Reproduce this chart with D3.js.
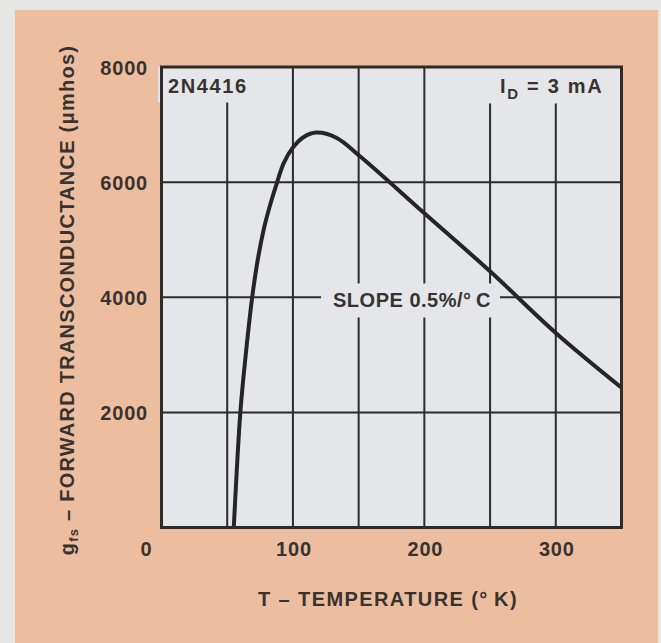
<!DOCTYPE html>
<html>
<head>
<meta charset="utf-8">
<script src="https://cdn.jsdelivr.net/npm/d3@7/dist/d3.min.js"></script>
<style>
  html, body { margin: 0; padding: 0; background: #e6e6e4; }
  svg { display: block; }
  text { font-family: "Liberation Sans", Arial, Helvetica, sans-serif; font-weight: bold; fill: #38332f; }
</style>
</head>
<body>
<svg id="chart" width="661" height="643"></svg>
<script>
// 2N4416 forward transconductance vs. temperature (I_D = 3 mA)
const tempK = [55, 60, 64, 69, 73, 78, 82, 88, 93, 100, 108, 118, 133, 151, 200, 250, 300, 350];
const gfs   = [0, 2000, 2980, 4000, 4620, 5200, 5550, 6000, 6330, 6600, 6780, 6860, 6770, 6450, 5460, 4450, 3380, 2430];

const xTickLabels = [100, 200, 300];
const yTickLabels = [2000, 4000, 6000, 8000];
const xGridValues = [50, 100, 150, 200, 250, 300];
const yGridValues = [2000, 4000, 6000];

const W = 661, H = 643;
const plot = { left: 161.5, right: 621.5, top: 67, bottom: 527.5 };
const ink = "#2d2b2b";
const plotFill = "#e4e6e9";

const svg = d3.select("#chart");

const x = d3.scaleLinear().domain([0, 350]).range([plot.left, plot.right]);
const y = d3.scaleLinear().domain([0, 8000]).range([plot.bottom, plot.top]);

// page and panel
svg.append("rect").attr("x", 0).attr("y", 0).attr("width", W).attr("height", H).attr("fill", "#e6e6e4");
svg.append("rect").attr("x", 15).attr("y", 10).attr("width", 643).attr("height", H - 10).attr("fill", "#ecbe9f");

// plot background
svg.append("rect")
  .attr("x", plot.left).attr("y", plot.top)
  .attr("width", plot.right - plot.left).attr("height", plot.bottom - plot.top)
  .attr("fill", plotFill);

// grid
const grid = svg.append("g").attr("stroke", ink).attr("stroke-width", 2);
grid.selectAll("line.v").data(xGridValues).join("line")
  .attr("class", "v")
  .attr("x1", d => x(d)).attr("x2", d => x(d))
  .attr("y1", plot.top).attr("y2", plot.bottom);
grid.selectAll("line.h").data(yGridValues).join("line")
  .attr("class", "h")
  .attr("x1", plot.left).attr("x2", plot.right)
  .attr("y1", d => y(d)).attr("y2", d => y(d));

// labels inside the grid, each clearing the grid behind it
const gaps = svg.append("g");
const inner = svg.append("g");

function clearBehind(node, pad) {
  const b = node.getBBox();
  const x0 = b.x - pad.l, x1 = b.x + b.width + pad.r;
  const y0 = pad.toTop ? plot.top : b.y - pad.t;
  const y1 = b.y + b.height + pad.b;
  gaps.append("rect")
    .attr("x", x0).attr("y", y0)
    .attr("width", x1 - x0).attr("height", y1 - y0)
    .attr("fill", plotFill);
}

const part = inner.append("text")
  .attr("x", 168).attr("y", 92.5)
  .attr("font-size", 20).attr("letter-spacing", 1.6)
  .text("2N4416");
clearBehind(part.node(), { l: 10, r: 8, t: 0, b: 6, toTop: true });

const idLabel = inner.append("text")
  .attr("x", 500).attr("y", 92.5)
  .attr("font-size", 20).attr("letter-spacing", 1.7);
idLabel.append("tspan").text("I");
idLabel.append("tspan").attr("font-size", 15).attr("dy", 6).text("D");
idLabel.append("tspan").attr("dy", -6).text(" = 3 mA");
clearBehind(idLabel.node(), { l: 14, r: 10, t: 0, b: 2, toTop: true });

const slope = inner.append("text")
  .attr("x", 412).attr("y", 306.5)
  .attr("text-anchor", "middle")
  .attr("font-size", 20).attr("letter-spacing", 0.5)
  .text("SLOPE 0.5%/°\u2009C");
clearBehind(slope.node(), { l: 12, r: 9, t: 5, b: 7 });

// curve
svg.append("clipPath").attr("id", "plotClip")
  .append("rect")
  .attr("x", plot.left).attr("y", plot.top)
  .attr("width", plot.right - plot.left).attr("height", plot.bottom - plot.top);

const pts = tempK.map((t, i) => [t, gfs[i]]);
const line = d3.line()
  .x(d => x(d[0]))
  .y(d => y(d[1]))
  .curve(d3.curveCatmullRom.alpha(0.5));

svg.append("path")
  .datum(pts)
  .attr("d", line)
  .attr("fill", "none")
  .attr("stroke", "#262424")
  .attr("stroke-width", 4)
  .attr("stroke-linejoin", "round")
  .attr("clip-path", "url(#plotClip)");

// frame
svg.append("rect")
  .attr("x", plot.left).attr("y", plot.top)
  .attr("width", plot.right - plot.left).attr("height", plot.bottom - plot.top)
  .attr("fill", "none").attr("stroke", ink).attr("stroke-width", 3);

// tick labels
svg.append("g").selectAll("text").data(yTickLabels).join("text")
  .attr("x", 148).attr("y", d => y(d) + 8)
  .attr("text-anchor", "end")
  .attr("font-size", 20).attr("letter-spacing", 0.8)
  .text(d => d);

svg.append("g").selectAll("text").data(xTickLabels).join("text")
  .attr("x", d => x(d) + 1).attr("y", 556)
  .attr("text-anchor", "middle")
  .attr("font-size", 20).attr("letter-spacing", 0.8)
  .text(d => d);

// shared origin label
svg.append("text")
  .attr("x", x(0) - 10).attr("y", 556)
  .attr("text-anchor", "end")
  .attr("font-size", 20)
  .text("0");

// axis titles
svg.append("text")
  .attr("x", 388).attr("y", 606)
  .attr("text-anchor", "middle")
  .attr("font-size", 20).attr("letter-spacing", 1.4)
  .text("T \u2013 TEMPERATURE (°\u2009K)");

const yTitle = svg.append("text")
  .attr("transform", "translate(74,300) rotate(-90)")
  .attr("text-anchor", "middle")
  .attr("font-size", 20).attr("letter-spacing", 1.25);
yTitle.append("tspan").text("g");
yTitle.append("tspan").attr("font-size", 13).attr("dy", 4).text("fs");
yTitle.append("tspan").attr("dy", -4).text(" \u2013 FORWARD TRANSCONDUCTANCE (\u03bcmhos)");
</script>
</body>
</html>
